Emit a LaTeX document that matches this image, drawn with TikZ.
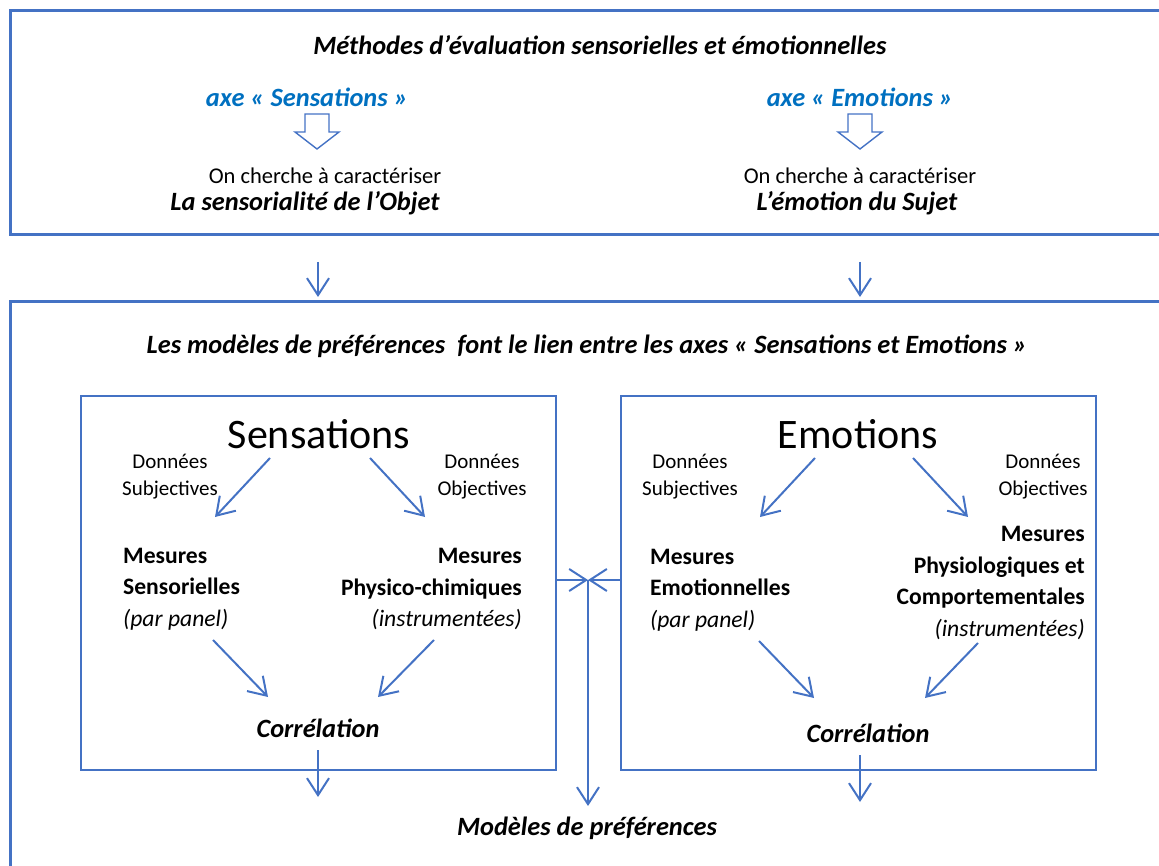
\documentclass[tikz,border=0pt]{standalone}
\usepackage{fontspec}
\setmainfont{Carlito}
\usetikzlibrary{arrows.meta}

\definecolor{boxblue}{RGB}{68,114,196}
\definecolor{axeblue}{RGB}{0,112,192}
\newcommand{\ax}{\color{axeblue}}
\newcommand{\fsz}[2]{\fontsize{#1}{#2}\selectfont}

\begin{document}
\begin{tikzpicture}[x=1pt, y=-1pt,
  every node/.style = {inner sep=0pt},
  frame/.style = {draw=boxblue, line width=3pt},
  inbox/.style = {draw=boxblue, line width=2.2pt},
  hollow/.style = {draw=boxblue, line width=1.4pt, line join=miter},
  arr/.style = {draw=boxblue, line width=2pt, -{Straight Barb[length=17pt, width=22pt]}},
  head/.style = {font=\fsz{26.4}{30}\bfseries\itshape},
  small/.style = {font=\fsz{21}{27}},
  mes/.style = {font=\fsz{23.6}{31.5}}]
\clip (0,0) rectangle (1159,866);

% frames
\node (top) [frame, minimum width=1250, minimum height=224, anchor=north west] at (9,9) {};
\node (low) [frame, minimum width=1250, minimum height=700, anchor=north west] at (9,300) {};
\node (lbox) [inbox, minimum width=475, minimum height=374] at (318.5,583) {};
\node (rbox) [inbox, minimum width=475, minimum height=374] at (858.5,583) {};

% top part
\node (t1) at (600,45) [head] {Méthodes d’évaluation sensorielles et émotionnelles};
\node (axs) at (307,97) [head] {\ax axe « Sensations »};
\node (axe) at (860,97) [head] {\ax axe « Emotions »};
\node (chs) at (325,176) [font=\fsz{22.5}{26}] {On cherche à caractériser};
\node (che) at (860,176) [font=\fsz{22.5}{26}] {On cherche à caractériser};
\node (obj) at (305,203) [head] {La sensorialité de l’Objet};
\node (suj) at (857,203) [head] {L’émotion du Sujet};

\coordinate (hs) at (317,114);
\coordinate (he) at (860,114);
\draw [hollow] (hs) ++(-12,0) -- ++(24,0) -- ++(0,18) -- ++(10,0) -- ++(-22,17) -- ++(-22,-17) -- ++(10,0) -- cycle;
\draw [hollow] (he) ++(-12,0) -- ++(24,0) -- ++(0,18) -- ++(10,0) -- ++(-22,17) -- ++(-22,-17) -- ++(10,0) -- cycle;

\coordinate (d1) at (318,262);
\coordinate (d2) at (318,297);
\coordinate (d3) at (860,262);
\coordinate (d4) at (860,297);
\draw [arr] (d1) -- (d2);
\draw [arr] (d3) -- (d4);

% lower part
\node (t2) at (587,346) [head] {Les modèles de préférences\ \ font le lien entre les axes « Sensations et Emotions »};

\node (sen) at (319,434) [font=\fsz{42}{46}] {Sensations};
\node (emo) at (858,434) [font=\fsz{42}{46}] {Emotions};

\node (ds1) at (170,477) [small, align=center] {Données\\Subjectives};
\node (do1) at (482,477) [small, align=center] {Données\\Objectives};
\node (ds2) at (690,477) [small, align=center] {Données\\Subjectives};
\node (do2) at (1043,477) [small, align=center] {Données\\Objectives};

\node (ms) at (123,589) [mes, align=left, anchor=west] {\textbf{Mesures}\\\textbf{Sensorielles}\\\textit{(par panel)}};
\node (mp) at (522,589) [mes, align=right, anchor=east] {\textbf{Mesures}\\\textbf{Physico-chimiques}\\\textit{(instrumentées)}};
\node (me) at (650,590) [mes, align=left, anchor=west] {\textbf{Mesures}\\\textbf{Emotionnelles}\\\textit{(par panel)}};
\node (mc) at (1085,583) [mes, align=right, anchor=east] {\textbf{Mesures}\\\textbf{Physiologiques et}\\\textbf{Comportementales}\\\textit{(instrumentées)}};

\node (c1) at (318,728) [head] {Corrélation};
\node (c2) at (868,733) [head] {Corrélation};
\node (mod) at (587,828) [head] {Modèles de préférences};

% arrows in the boxes
\coordinate (a1) at (270,458);
\coordinate (a2) at (215,517);
\coordinate (a3) at (370,458);
\coordinate (a4) at (425,517);
\coordinate (a5) at (815,458);
\coordinate (a6) at (760,517);
\coordinate (a7) at (913,458);
\coordinate (a8) at (968,517);
\draw [arr] (a1) -- (a2);
\draw [arr] (a3) -- (a4);
\draw [arr] (a5) -- (a6);
\draw [arr] (a7) -- (a8);

\coordinate (b1) at (213,640);
\coordinate (b2) at (268,697);
\coordinate (b3) at (434,640);
\coordinate (b4) at (378,697);
\coordinate (b5) at (759,641);
\coordinate (b6) at (814,698);
\coordinate (b7) at (978,643);
\coordinate (b8) at (925,698);
\draw [arr] (b1) -- (b2);
\draw [arr] (b3) -- (b4);
\draw [arr] (b5) -- (b6);
\draw [arr] (b7) -- (b8);

% to the models
\coordinate (mid) at (588,580);
\coordinate (e1) at (318,750);
\coordinate (e2) at (318,797);
\coordinate (e3) at (860,755);
\coordinate (e4) at (860,802);
\coordinate (e5) at (588,806);
\draw [arr] (lbox.east |- mid) -- (mid);
\draw [arr] (rbox.west |- mid) -- (mid);
\draw [arr] (mid) -- (e5);
\draw [arr] (e1) -- (e2);
\draw [arr] (e3) -- (e4);
\end{tikzpicture}
\end{document}
